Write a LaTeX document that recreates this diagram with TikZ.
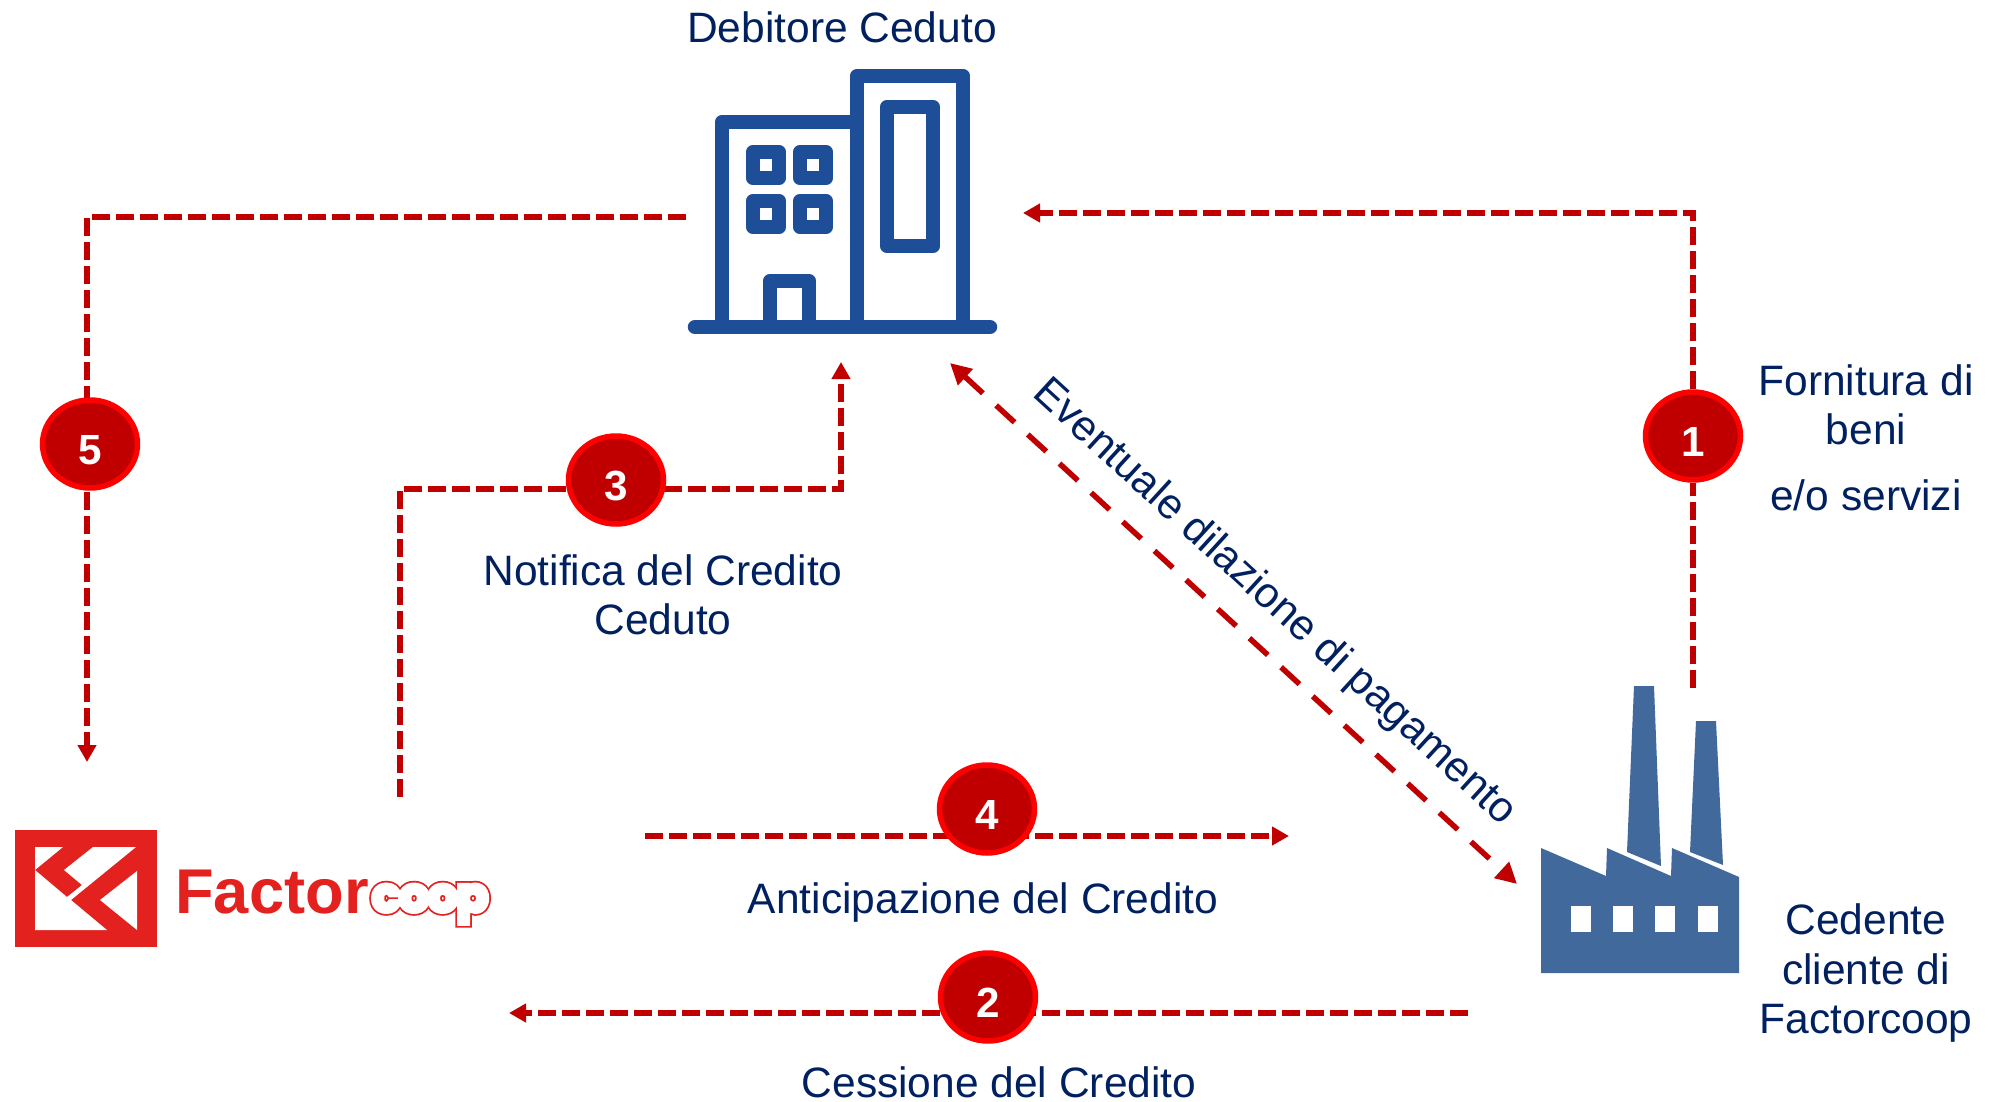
\documentclass[tikz,border=0pt]{standalone}
\usepackage{fontspec}
\setmainfont{Liberation Sans}
\newfontfamily\coopfont{Poppins}
\usepackage{tikz}
\usetikzlibrary{arrows.meta}
\usetikzlibrary{shapes.geometric}
\usetikzlibrary{backgrounds}
\definecolor{navytext}{HTML}{002060}
\definecolor{arrowred}{HTML}{C00000}
\definecolor{ringred}{HTML}{FF0000}
\definecolor{buildingblue}{HTML}{1F4E99}
\definecolor{factoryblue}{HTML}{41699B}
\definecolor{logored}{HTML}{E3211E}

\begin{document}
\begin{tikzpicture}[
			x=0.02cm, y=-0.02cm,
			label text/.style={text=navytext, font=\fontsize{24.2}{24.2}\selectfont, inner sep=0pt},
			badge/.style={ellipse, draw=ringred, fill=arrowred, line width=0.11cm, minimum width=1.9cm, minimum height=1.76cm, inner sep=0pt, text=white, text height=0.8cm, text depth=0pt, font=\fontsize{24}{24}\selectfont\bfseries},
			flow/.style={draw=arrowred, line width=0.12cm, dash pattern=on 0.36cm off 0.12cm},
			flowtip/.style={flow, -{Triangle[length=0.34cm, width=0.36cm]}},
			coop text/.style={anchor=base west, inner sep=0pt, font=\coopfont\fontsize{26}{26}\selectfont\bfseries},
			building line/.style={draw=buildingblue, line width=0.29cm, line join=round}
		]
		\useasboundingbox (0,0) rectangle (1998,1102);

		% --- Debitore building ---
		\draw[building line, line cap=round] (695,327) -- (990,327);
		\draw[building line] (722,327) -- (722,122) -- (857,122);
		\draw[building line] (857,327) -- (857,76) -- (963,76) -- (963,327);
		\draw[building line] (887,107) rectangle (933,246);
		\foreach \wx in {753,800} {
				\foreach \wy in {152,201} {
						\draw[building line] (\wx,\wy) rectangle ++(26,26);
					}
			}
		\draw[building line] (770,327) -- (770,281) -- (809,281) -- (809,327);

		% --- Factory ---
		\fill[factoryblue] (1541,848) -- (1606,876) -- (1607,848) -- (1671,876) -- (1672,848) -- (1739,877) -- (1739,973) -- (1541,973) -- cycle;
		\fill[factoryblue] (1634,686) -- (1654,686) -- (1661,866) -- (1627,852) -- cycle;
		\fill[factoryblue] (1696,721) -- (1716,721) -- (1723,865) -- (1690,852) -- cycle;
		\foreach \wx in {1571,1613,1655,1698} {
				\fill[white] (\wx,906) rectangle ++(20,26);
			}

		% --- Logo ---
		\fill[logored] (15,830) rectangle (157,947);
		\fill[white] (35,847) -- (63,847) -- (35,870) -- cycle;
		\fill[white] (35,870) -- (67,897) -- (82,885) -- (64,870) -- (93,847) -- (136,847) -- (71,900) -- (107,930) -- (35,930) -- cycle;
		\fill[white] (137,871) -- (137,930) -- (100,900) -- cycle;
		\node[anchor=base west, inner sep=0pt, text=logored, font=\fontsize{36}{36}\selectfont\bfseries] (logotext) at (175,913) {Factor};
		\node[coop text, text=logored] (logocoop) at (372,911) {\special{pdf:code 2 Tr 5 w}\addfontfeature{LetterSpace=-1}coop\special{pdf:code 0 Tr}};
		\node[coop text, text=white] at (372,911) {\special{pdf:code 2 Tr 3 w}\addfontfeature{LetterSpace=-1}coop\special{pdf:code 0 Tr}};

		% --- Badges ---
		\node[badge] (badge1) at (1693,436) {1};
		\node[badge] (badge2) at (988,997) {2};
		\node[badge] (badge3) at (616,480) {3};
		\node[badge] (badge4) at (987,809) {4};
		\node[badge] (badge5) at (90,444) {5};

		% --- Connector ends ---
		\coordinate (factory top) at (1693,688);
		\coordinate (building right) at (1023,213);
		\coordinate (building left) at (686,217);
		\coordinate (logo left) at (87,762);
		\coordinate (logo up) at (400,797);
		\coordinate (corner3) at (400,489);
		\coordinate (building below) at (841,362);
		\coordinate (logo right) at (645,836);
		\coordinate (right4) at (1289,836);
		\coordinate (factory left) at (1468,1013);
		\coordinate (logo below) at (509,1013);
		\coordinate (delay top) at (950,363);
		\coordinate (delay bottom) at (1517,884);

		% --- Arrows ---
		\begin{scope}[on background layer]
			\draw[flow] (factory top) -- (badge1);
			\draw[flowtip] (badge1) |- (building right);
			\draw[flow] (building left) -| (logo left |- badge5);
			\draw[flowtip] (logo left |- badge5) -- (logo left);
			\draw[flow] (logo up) -- (corner3) -- (corner3 -| badge3);
			\draw[flowtip] (corner3 -| badge3) -| (building below);
			\draw[flow] (logo right) -- (logo right -| badge4);
			\draw[flowtip] (logo right -| badge4) -- (right4);
			\draw[flow] (factory left) -- (factory left -| badge2);
			\draw[flowtip] (factory left -| badge2) -- (logo below);
			\draw[draw=arrowred, line width=0.11cm, dash pattern=on 0.5cm off 0.36cm, {Triangle[length=0.42cm, width=0.42cm]}-{Triangle[length=0.42cm, width=0.42cm]}] (delay top) -- (delay bottom);
		\end{scope}

		% --- Labels ---
		\node[label text] (debitore) at (842,27) {Debitore Ceduto};
		\node[label text, align=center] (fornitura) at (1866,405) {Fornitura di\\[0.14cm]beni};
		\node[label text] (servizi) at (1866,495) {e/o servizi};
		\node[label text, align=center] (notifica) at (663,595) {Notifica del Credito\\[0.14cm]Ceduto};
		\node[label text, rotate=-42.5] (eventuale) at (1274,603) {Eventuale dilazione di pagamento};
		\node[label text] (anticipazione) at (983,902) {Anticipazione del Credito};
		\node[label text] (cessione) at (999,1082) {Cessione del Credito};
		\node[label text, align=center] (cedente) at (1866,973) {Cedente\\[0.14cm]cliente di\\[0.14cm]Factorcoop};

	\end{tikzpicture}
\end{document}
